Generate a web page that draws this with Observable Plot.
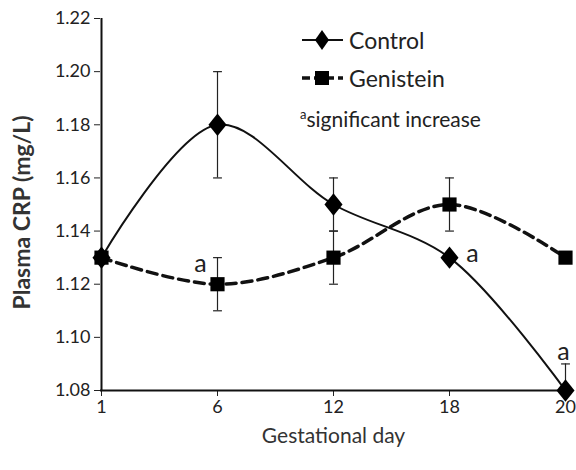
<!DOCTYPE html>
<html>
<head>
<meta charset="utf-8">
<script src="https://cdn.jsdelivr.net/npm/d3@7"></script>
<script src="https://cdn.jsdelivr.net/npm/@observablehq/plot@0.6"></script>
<style>
  html, body { margin: 0; padding: 0; background: #fff; }
  #wrap { position: relative; width: 576px; height: 470px; font-family: Lato, "Open Sans", sans-serif; }
  #legend { position: absolute; left: 300px; top: 21px; color: #222; font-size: 23px; line-height: 38px; }
  #legend .row { display: flex; align-items: center; height: 38px; }
  #legend svg { margin-right: 3px; }
</style>
</head>
<body>
<div id="wrap">
  <div id="chart"></div>
  <div id="legend"></div>
</div>
<script>
const days = ["1", "6", "12", "18", "20"];
const control = [1.13, 1.18, 1.15, 1.13, 1.08];
const controlErr = [0, 0.02, 0.01, 0, 0.01];
const genistein = [1.13, 1.12, 1.13, 1.15, 1.13];
const genisteinErr = [0, 0.01, 0.01, 0.01, 0];
const yTicks = [1.08, 1.10, 1.12, 1.14, 1.16, 1.18, 1.20, 1.22];
const sigLabels = [
  {series: "Genistein", day: "6", text: "a", pos: "left"},
  {series: "Control", day: "18", text: "a", pos: "right"},
  {series: "Control", day: "20", text: "a", pos: "top"}
];

const yMin = 1.08, yMax = 1.22;
const rows = [];
days.forEach((d, i) => {
  rows.push({series: "Control", day: d, v: control[i], e: controlErr[i]});
  rows.push({series: "Genistein", day: d, v: genistein[i], e: genisteinErr[i]});
});
const errRows = rows.filter(r => r.e > 0).map(r => ({...r, lo: Math.max(yMin, r.v - r.e), hi: r.v + r.e}));
const caps = [];
errRows.forEach(r => {
  if (r.v - r.e >= yMin) caps.push({day: r.day, y: r.lo});
  caps.push({day: r.day, y: r.hi});
});
const sig = sigLabels.map(s => {
  const r = rows.find(q => q.series === s.series && q.day === s.day);
  return {...s, v: r.v, top: r.v + r.e};
});

const capSymbol = {
  draw(ctx, size) {
    const w = Math.sqrt(size) / 2;
    ctx.moveTo(-w, 0);
    ctx.lineTo(w, 0);
  }
};
const diamondSymbol = {
  draw(ctx, size) {
    const s = Math.sqrt(size) / 2;
    const w = s * 0.85, h = s * 1.05;
    ctx.moveTo(0, -h);
    ctx.lineTo(w, 0);
    ctx.lineTo(0, h);
    ctx.lineTo(-w, 0);
    ctx.closePath();
  }
};

const font = "Lato, 'Open Sans', sans-serif";
const chart = Plot.plot({
  width: 576,
  height: 460,
  marginTop: 18,
  marginBottom: 70,
  marginLeft: 100,
  marginRight: 10,
  style: {fontFamily: font, fontSize: "18px", color: "#222", background: "#fff"},
  x: {type: "point", domain: days, padding: 0, label: null},
  y: {domain: [yMin, yMax], label: null},
  marks: [
    Plot.axisX({tickSize: 6, tickPadding: 4, fontSize: 18}),
    Plot.axisY({ticks: yTicks, tickFormat: d3.format(".2f"), tickSize: 6, tickPadding: 4, fontSize: 18}),
    Plot.ruleY([yMin], {stroke: "#111", strokeWidth: 2}),
    Plot.ruleX([days[0]], {stroke: "#111", strokeWidth: 2, y1: yMin, y2: yMax}),
    Plot.ruleX(errRows, {x: "day", y1: "lo", y2: "hi", stroke: "#222", strokeWidth: 1.2}),
    Plot.dot(caps, {x: "day", y: "y", symbol: capSymbol, r: 5, stroke: "#222", strokeWidth: 1.2, fill: "none"}),
    Plot.line(rows.filter(r => r.series === "Genistein"), {x: "day", y: "v", curve: "catmull-rom", stroke: "#111", strokeWidth: 3.5, strokeDasharray: "10,6"}),
    Plot.line(rows.filter(r => r.series === "Control"), {x: "day", y: "v", curve: "catmull-rom", stroke: "#111", strokeWidth: 2}),
    Plot.dot(rows.filter(r => r.series === "Genistein"), {x: "day", y: "v", symbol: "square", r: 8, fill: "#000", stroke: "none"}),
    Plot.dot(rows.filter(r => r.series === "Control"), {x: "day", y: "v", symbol: diamondSymbol, r: 12, fill: "#000", stroke: "none"}),
    Plot.text(sig.filter(s => s.pos === "left"), {x: "day", y: "v", text: "text", dx: -17, dy: -20, fontSize: 25, fill: "#222"}),
    Plot.text(sig.filter(s => s.pos === "right"), {x: "day", y: "v", text: "text", dx: 23, dy: -4, fontSize: 25, fill: "#222"}),
    Plot.text(sig.filter(s => s.pos === "top"), {x: "day", y: "top", text: "text", dx: -2, dy: -12, fontSize: 25, fill: "#222"}),
    Plot.text(["Plasma CRP (mg/L)"], {frameAnchor: "left", textAnchor: "middle", dx: -78, dy: 8, rotate: -90, fontSize: 23, fontWeight: "bold", fill: "#333", letterSpacing: "2.4px"}),
    Plot.text(["Gestational day"], {frameAnchor: "bottom", dy: 52, fontSize: 21, fill: "#333"})
  ]
});
document.getElementById("chart").appendChild(chart);

const legendItems = [
  {name: "Control", dash: null, sw: 2, sym: "diamond"},
  {name: "Genistein", dash: "8,4", sw: 3.5, sym: "square"}
];
const legend = document.getElementById("legend");
legendItems.forEach(it => {
  const row = document.createElement("div");
  row.className = "row";
  const marker = it.sym === "diamond"
    ? '<path d="M22,8 L29,18 L22,28 L15,18 Z" fill="#000"/>'
    : '<rect x="15" y="11" width="14" height="14" fill="#000"/>';
  row.innerHTML = `<svg width="46" height="36"><line x1="2" x2="43" y1="18" y2="18" stroke="#111" stroke-width="${it.sw}" ${it.dash ? `stroke-dasharray="${it.dash}"` : ""}/>${marker}</svg><span>${it.name}</span>`;
  legend.appendChild(row);
});
const note = document.createElement("div");
note.className = "row";
note.innerHTML = '<span style="font-size:21px"><sup style="font-size:13px">a</sup>significant increase</span>';
legend.appendChild(note);
</script>
</body>
</html>
